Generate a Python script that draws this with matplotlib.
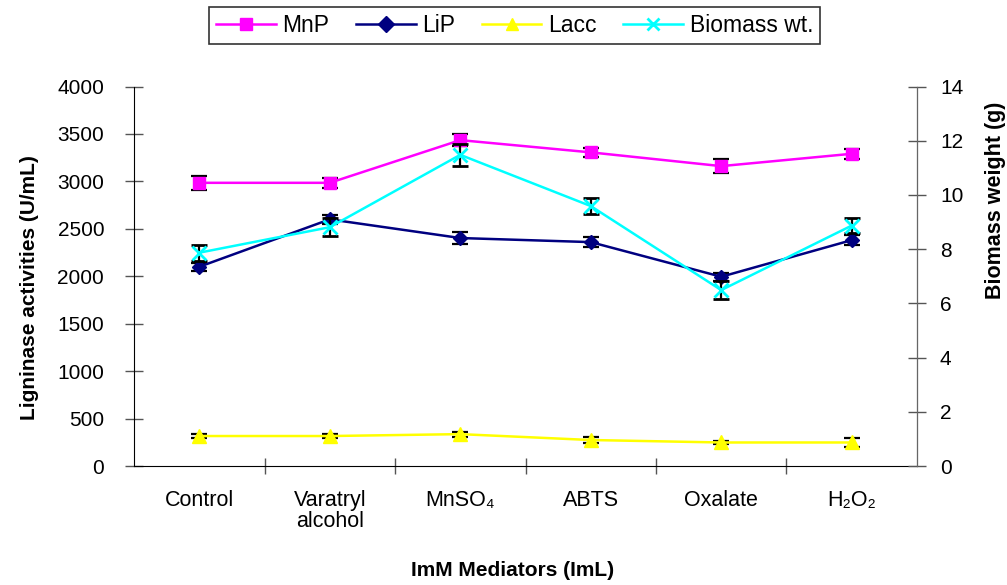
import matplotlib
matplotlib.use("Agg")
import matplotlib.pyplot as plt
import numpy as np

plt.rcParams['font.family'] = ['Liberation Sans', 'DejaVu Sans']

categories = ["Control", "Varatryl\nalcohol", "MnSO\u2084", "ABTS", "Oxalate", "H\u2082O\u2082"]
mnp = [2985, 2985, 3435, 3306, 3161, 3291]
mnp_err = [75, 55, 60, 47, 70, 50]
lip = [2100, 2600, 2403, 2360, 1995, 2381]
lip_err = [45, 50, 60, 55, 40, 50]
lacc = [316, 316, 336, 274, 248, 248]
lacc_err = [20, 20, 25, 30, 20, 50]
biomass = [7.87, 8.81, 11.48, 9.59, 6.49, 8.87]
biomass_err = [0.30, 0.33, 0.40, 0.28, 0.32, 0.27]

fig = plt.figure(figsize=(10.07, 5.85), dpi=100)
ax = fig.add_axes([0.1331, 0.2034, 0.7775, 0.6487])
ax2 = ax.twinx()

x = np.arange(len(categories))
ebkw = dict(ecolor='black', elinewidth=1.6, capsize=6, capthick=1.6)

l1 = ax.errorbar(x, mnp, yerr=mnp_err, color='#FF00FF', marker='s', markersize=9, lw=1.8, label='MnP', **ebkw)
l2 = ax.errorbar(x, lip, yerr=lip_err, color='#000080', marker='D', markersize=7.5, lw=1.8, label='LiP', **ebkw)
l3 = ax.errorbar(x, lacc, yerr=lacc_err, color='#FFFF00', marker='^', markersize=10, lw=1.8, label='Lacc', **ebkw)
l4 = ax2.errorbar(x, biomass, yerr=biomass_err, color='#00FFFF', marker='x', markersize=10, mew=2, lw=1.8, label='Biomass wt.', **ebkw)

ax.set_xlim(-0.5, len(categories) - 0.5)
ax.set_ylim(0, 4000)
ax.set_yticks(np.arange(0, 4001, 500))
ax2.set_ylim(0, 14)
ax2.set_yticks(np.arange(0, 15, 2))

ax.set_xticks(x)
ax.set_xticklabels(categories, fontsize=15.5, linespacing=1.0)
ax.set_xticks(np.arange(0.5, len(categories) - 0.5, 1), minor=True)
ax.tick_params(axis='x', which='major', length=0, pad=17)
ax.tick_params(axis='x', which='minor', direction='inout', length=11, width=1, color='#555555')
ax.tick_params(axis='y', direction='inout', length=13, width=1, color='#555555', labelsize=15, pad=15)
ax2.tick_params(axis='y', direction='inout', length=13, width=1, color='#555555', labelsize=15, pad=10)

for a in (ax, ax2):
    a.spines['top'].set_visible(False)
ax.spines['left'].set_color('black')
ax.spines['bottom'].set_color('black')
ax2.spines['right'].set_color('#666666')
ax2.spines['left'].set_visible(False)
ax2.spines['bottom'].set_visible(False)

ax.set_ylabel('Ligninase activities (U/mL)', fontsize=15, fontweight='bold')
ax.yaxis.set_label_coords(-0.122, 0.47)
ax2.set_ylabel('Biomass weight (g)', fontsize=15.5, fontweight='bold')
ax2.yaxis.set_label_coords(1.087, 0.70)
ax.set_xlabel('ImM Mediators (ImL)', fontsize=15, fontweight='bold')
ax.xaxis.set_label_coords(0.484, -0.25)

handles = [l1, l2, l3, l4]
leg = fig.legend(handles=[h[0] for h in handles], labels=['MnP', 'LiP', 'Lacc', 'Biomass wt.'],
                 loc='center', bbox_to_anchor=(0.511, 0.957), ncol=4, fontsize=16.5,
                 frameon=True, fancybox=False, edgecolor='#333333', framealpha=1,
                 handlelength=2.6, columnspacing=1.15, handletextpad=0.3, borderpad=0.3)
leg.get_frame().set_linewidth(1.2)
for h in leg.legend_handles:
    h.set_markersize(8)

fig.savefig('out.png', dpi=100)
